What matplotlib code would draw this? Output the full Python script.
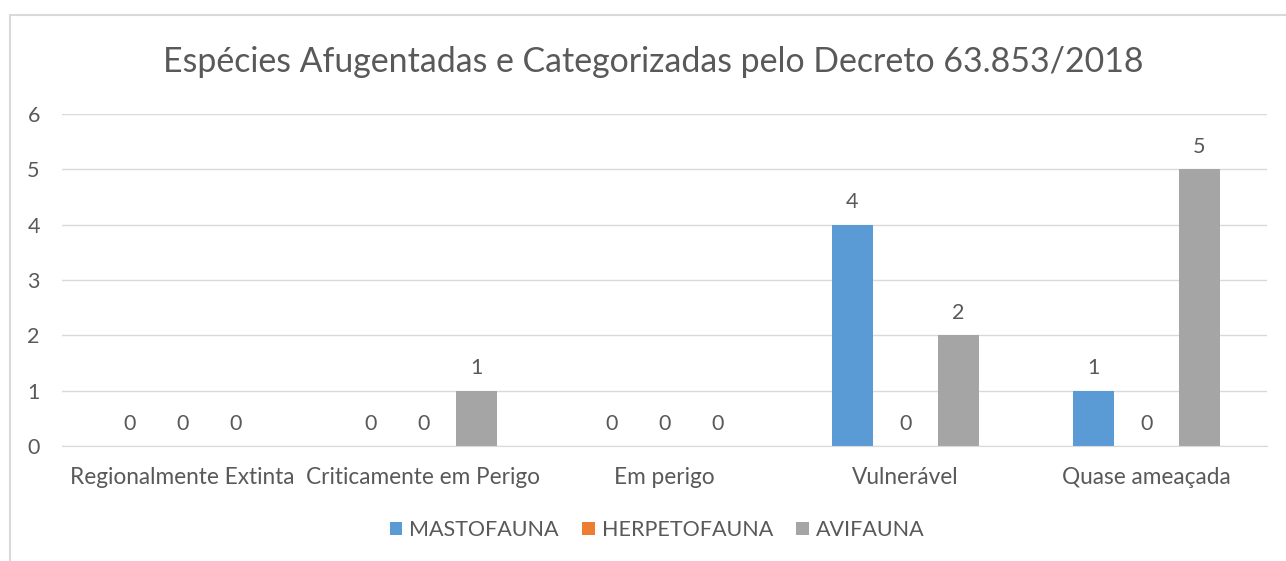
import matplotlib.pyplot as plt
import numpy as np
from matplotlib.patches import Rectangle

categorias = ['Regionalmente Extinta', 'Criticamente em Perigo', 'Em perigo',
              'Vulnerável', 'Quase ameaçada']
mastofauna = [0, 0, 0, 4, 1]
herpetofauna = [0, 0, 0, 0, 0]
avifauna = [0, 1, 0, 2, 5]

series = ['MASTOFAUNA', 'HERPETOFAUNA', 'AVIFAUNA']
cores = ['#5B9BD5', '#ED7D31', '#A5A5A5']
texto = '#595959'

plt.rcParams['font.family'] = ['Lato', 'DejaVu Sans']

fig = plt.figure(figsize=(12.86, 5.61), dpi=100)
ax = fig.add_axes([62 / 1286, (561 - 446) / 561, 1205 / 1286, 332 / 561])

# moldura do gráfico
fig.patches.append(Rectangle((10 / 1286, -0.1), 1.2, (561 - 15) / 561 + 0.1,
                             transform=fig.transFigure, fill=False,
                             edgecolor='#D9D9D9', linewidth=1.5))

x = np.arange(len(categorias))
largura = 0.17
passo = 0.22
for i, (vals, nome, cor) in enumerate(zip([mastofauna, herpetofauna, avifauna], series, cores)):
    b = ax.bar(x + (i - 1) * passo, vals, width=largura, color=cor, label=nome)
    ax.bar_label(b, padding=9, fontsize=15.5, color=texto)

ax.set_xlim(-0.5, len(categorias) - 0.5)
ax.set_ylim(0, 6)
ax.set_yticks(range(7))
ax.yaxis.grid(True, color='#D9D9D9', linewidth=1)
ax.set_axisbelow(True)
for s in ['left', 'right', 'top']:
    ax.spines[s].set_visible(False)
ax.spines['bottom'].set_color('#D9D9D9')
ax.tick_params(axis='y', length=0, labelsize=15.5, colors=texto, pad=16)
ax.tick_params(axis='x', length=0, labelsize=16.3, colors=texto, pad=15)
ax.set_xticks(x)
ax.set_xticklabels(categorias)

fig.text(653 / 1286, 1 - 62 / 561, 'Espécies Afugentadas e Categorizadas pelo Decreto 63.853/2018',
         ha='center', va='center', fontsize=24.4, color=texto)

ax.legend(loc='center', bbox_to_anchor=(657 / 1286, (561 - 530) / 561), bbox_transform=fig.transFigure,
          ncol=3, frameon=False, fontsize=15.5, labelcolor=texto, handlelength=0.6,
          handleheight=0.6, handletextpad=0.3, columnspacing=1.1)

plt.savefig('out.png', dpi=100)
